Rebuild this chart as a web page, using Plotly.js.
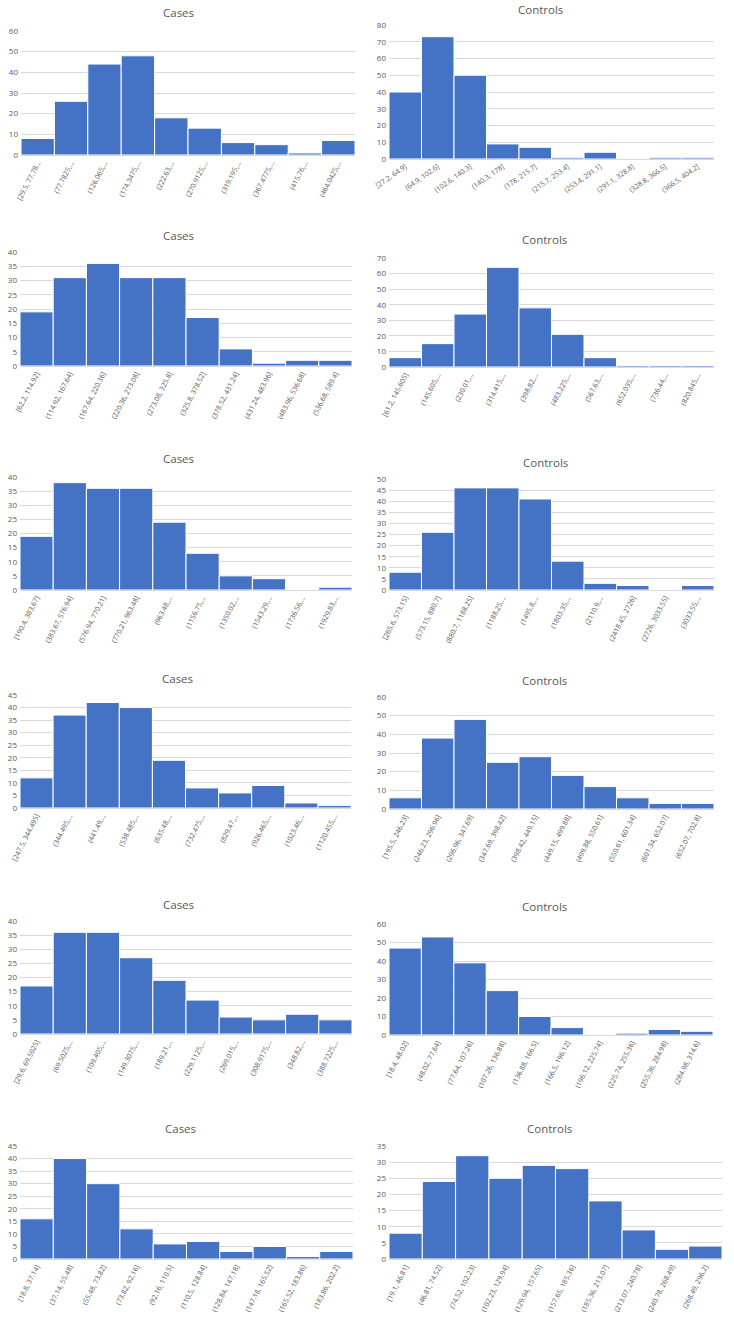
<!DOCTYPE html>
<html>
<head>
<meta charset="utf-8">
<script src="https://cdn.plot.ly/plotly-3.0.1.min.js"></script>
<style>html,body{margin:0;padding:0;background:#fff;}#chart{width:734px;height:1329px;}</style>
</head>
<body>
<div id="chart"></div>
<script>
// ---- Data ----
const titles = ["Cases","Controls","Cases","Controls","Cases","Controls","Cases","Controls","Cases","Controls","Cases","Controls"];

const bins1 = ["[29.5, 77.78...","(77.7825,...","(126.065,...","(174.3475,...","(222.63,...","(270.9125,...","(319.195,...","(367.4775,...","(415.76,...","(464.0425,..."];
const counts1 = [8, 26, 44, 48, 18, 13, 6, 5, 1, 7];

const bins2 = ["[27.2, 64.9]","(64.9, 102.6]","(102.6, 140.3]","(140.3, 178]","(178, 215.7]","(215.7, 253.4]","(253.4, 291.1]","(291.1, 328.8]","(328.8, 366.5]","(366.5, 404.2]"];
const counts2 = [40, 73, 50, 9, 7, 1, 4, 0, 1, 1];

const bins3 = ["[62.2, 114.92]","(114.92, 167.64]","(167.64, 220.36]","(220.36, 273.08]","(273.08, 325.8]","(325.8, 378.52]","(378.52, 431.24]","(431.24, 483.96]","(483.96, 536.68]","(536.68, 589.4]"];
const counts3 = [19, 31, 36, 31, 31, 17, 6, 1, 2, 2];

const bins4 = ["[61.2, 145.605]","(145.605,...","(230.01,...","(314.415,...","(398.82,...","(483.225,...","(567.63,...","(652.035,...","(736.44,...","(820.845,..."];
const counts4 = [6, 15, 34, 64, 38, 21, 6, 1, 1, 1];

const bins5 = ["[190.4, 383.67]","(383.67, 576.94]","(576.94, 770.21]","(770.21, 963.48]","(963.48,...","(1156.75,...","(1350.02,...","(1543.29,...","(1736.56,...","(1929.83,..."];
const counts5 = [19, 38, 36, 36, 24, 13, 5, 4, 0, 1];

const bins6 = ["[265.6, 573.15]","(573.15, 880.7]","(880.7, 1188.25]","(1188.25,...","(1495.8,...","(1803.35,...","(2110.9,...","(2418.45, 2726]","(2726, 3033.55]","(3033.55,..."];
const counts6 = [8, 26, 46, 46, 41, 13, 3, 2, 0, 2];

const bins7 = ["[247.5, 344.495]","(344.495,...","(441.49,...","(538.485,...","(635.48,...","(732.475,...","(829.47,...","(926.465,...","(1023.46,...","(1120.455,..."];
const counts7 = [12, 37, 42, 40, 19, 8, 6, 9, 2, 1];

const bins8 = ["[195.5, 246.23]","(246.23, 296.96]","(296.96, 347.69]","(347.69, 398.42]","(398.42, 449.15]","(449.15, 499.88]","(499.88, 550.61]","(550.61, 601.34]","(601.34, 652.07]","(652.07, 702.8]"];
const counts8 = [6, 38, 48, 25, 28, 18, 12, 6, 3, 3];

const bins9 = ["[29.6, 69.5025]","(69.5025,...","(109.405,...","(149.3075,...","(189.21,...","(229.1125,...","(269.015,...","(308.9175,...","(348.82,...","(388.7225,..."];
const counts9 = [17, 36, 36, 27, 19, 12, 6, 5, 7, 5];

const bins10 = ["[18.4, 48.02]","(48.02, 77.64]","(77.64, 107.26]","(107.26, 136.88]","(136.88, 166.5]","(166.5, 196.12]","(196.12, 225.74]","(225.74, 255.36]","(255.36, 284.98]","(284.98, 314.6]"];
const counts10 = [47, 53, 39, 24, 10, 4, 0, 1, 3, 2];

const bins11 = ["[18.8, 37.14]","(37.14, 55.48]","(55.48, 73.82]","(73.82, 92.16]","(92.16, 110.5]","(110.5, 128.84]","(128.84, 147.18]","(147.18, 165.52]","(165.52, 183.86]","(183.86, 202.2]"];
const counts11 = [16, 40, 30, 12, 6, 7, 3, 5, 1, 3];

const bins12 = ["[19.1, 46.81]","(46.81, 74.52]","(74.52, 102.23]","(102.23, 129.94]","(129.94, 157.65]","(157.65, 185.36]","(185.36, 213.07]","(213.07, 240.78]","(240.78, 268.49]","(268.49, 296.2]"];
const counts12 = [8, 24, 32, 25, 29, 28, 18, 9, 3, 4];

// y-axis maxima and tick steps
const yMax  = [60, 80, 40, 70, 40, 50, 45, 60, 40, 60, 45, 35];
const yStep = [10, 10, 5, 10, 5, 5, 5, 10, 5, 10, 5, 5];

const allBins = [bins1,bins2,bins3,bins4,bins5,bins6,bins7,bins8,bins9,bins10,bins11,bins12];
const allCounts = [counts1,counts2,counts3,counts4,counts5,counts6,counts7,counts8,counts9,counts10,counts11,counts12];

// ---- Layout geometry (pixels): [left, right, top, bottom, titleX, titleY, tickAngle] ----
const W = 734, H = 1329;
const geom = [
  [21, 355, 31, 155, 178, 13, -63],
  [389, 714, 25, 159, 540, 9, -35],
  [20, 352, 252, 366, 178, 235, -63],
  [389, 714, 258, 367, 544, 240, -63],
  [20, 352, 477, 590, 178, 459, -63],
  [389, 714, 479, 590, 545, 463, -63],
  [20, 351, 695, 808, 177, 678, -63],
  [389, 714, 697, 809, 544, 680, -63],
  [20, 352, 921, 1034, 178, 904, -63],
  [389, 713, 924, 1035, 544, 907, -63],
  [20, 353, 1146, 1259, 180, 1128, -63],
  [389, 722, 1146, 1259, 549, 1128, -63]
];

const BAR = "#4472C4";
const GRID = "#d9d9d9";
const TXT = "#595959";
const FONT = "'Open Sans', Lato, sans-serif";

const data = [];
const layout = {
  width: W, height: H,
  margin: {l: 0, r: 0, t: 0, b: 0},
  paper_bgcolor: "#fff", plot_bgcolor: "#fff",
  showlegend: false,
  bargap: 0,
  font: {family: FONT, color: TXT},
  annotations: []
};

for (let i = 0; i < 12; i++) {
  const n = i + 1;
  const g = geom[i];
  const xa = "x" + (n === 1 ? "" : n);
  const ya = "y" + (n === 1 ? "" : n);
  data.push({
    type: "bar",
    x: allBins[i],
    y: allCounts[i],
    xaxis: xa, yaxis: ya,
    marker: {color: BAR, line: {color: "#ffffff", width: 1}},
    hoverinfo: "x+y"
  });
  layout["xaxis" + (n === 1 ? "" : n)] = {
    domain: [g[0] / W, g[1] / W],
    anchor: ya,
    type: "category",
    range: [-0.5, 9.5],
    showgrid: false,
    zeroline: false,
    showline: true, linecolor: GRID, linewidth: 1,
    ticks: "",
    tickangle: g[6],
    tickfont: {size: 7, color: TXT, family: FONT},
    fixedrange: true
  };
  layout["yaxis" + (n === 1 ? "" : n)] = {
    domain: [1 - g[3] / H, 1 - g[2] / H],
    anchor: xa,
    range: [0, yMax[i]],
    dtick: yStep[i], tick0: 0,
    showgrid: true, gridcolor: GRID, gridwidth: 1,
    zeroline: false,
    showline: false,
    ticks: "",
    ticklabelstandoff: 2,
    tickfont: {size: 8, color: TXT, family: FONT},
    fixedrange: true
  };
  layout.annotations.push({
    text: titles[i],
    xref: "paper", yref: "paper",
    x: g[4] / W, y: 1 - g[5] / H,
    xanchor: "center", yanchor: "middle",
    showarrow: false,
    font: {size: 11.5, color: TXT, family: FONT}
  });
}

Plotly.newPlot("chart", data, layout, {displayModeBar: false, staticPlot: true});
</script>
</body>
</html>
